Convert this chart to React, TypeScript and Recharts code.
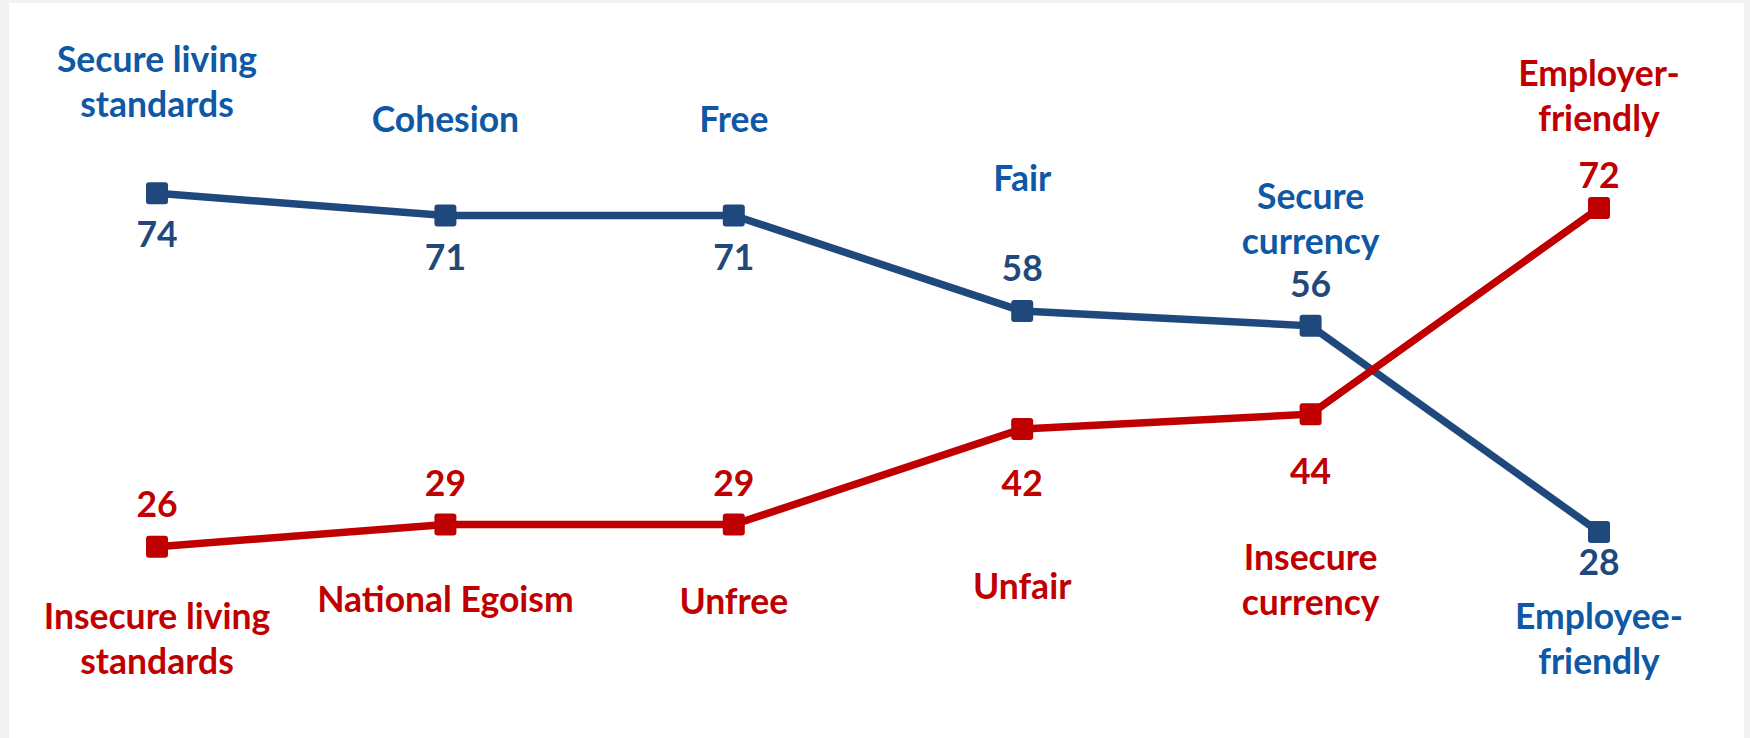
import React from 'react';
import { LineChart, Line, XAxis, YAxis, LabelList } from 'recharts';

// values
const positiveValues = [74, 71, 71, 58, 56, 28];
const negativeValues = [26, 29, 29, 42, 44, 72];

const positiveLabels = [
  ['Secure living', 'standards'],
  ['Cohesion'],
  ['Free'],
  ['Fair'],
  ['Secure', 'currency'],
  ['Employee-', 'friendly'],
];
const negativeLabels = [
  ['Insecure living', 'standards'],
  ['National Egoism'],
  ['Unfree'],
  ['Unfair'],
  ['Insecure', 'currency'],
  ['Employer-', 'friendly'],
];

// label placement relative to each point (px)
const posValueDy = [54, 55, 55, -30, -29, 43];
const posTextDy = [-121, -83, -83, -120, -117, 97];
const negValueDy = [-30, -29, -29, 67, 70, -20];
const negTextDy = [82, 87, 89, 170, 156, -122];

const BLUE_LINE = '#1F497D';
const BLUE_TEXT = '#0E58A5';
const RED = '#C00000';
const FONT = 'Lato, "Open Sans", sans-serif';
const LINE_H = 45;

const data = positiveValues.map((v, i) => ({ idx: i, pos: v, neg: negativeValues[i] }));

const squareDot = (color: string) => (props: any) => {
  const { cx, cy, index } = props;
  return <rect key={`d-${color}-${index}`} x={cx - 11} y={cy - 11} width={22} height={22} rx={3} fill={color} />;
};

const makeLabel =
  (lines: string[][], valueDy: number[], textDy: number[], valueColor: string, textColor: string) =>
  (props: any) => {
    const { x, y, index, value } = props;
    return (
      <g key={`l-${textColor}-${index}`} fontFamily={FONT} fontWeight={700} fontSize={35.5} textAnchor="middle">
        <text x={x} y={y + valueDy[index]} fill={valueColor}>
          {value}
        </text>
        <text x={x} y={y + textDy[index]} fill={textColor}>
          {lines[index].map((t, k) => (
            <tspan key={k} x={x} dy={k === 0 ? 0 : LINE_H}>
              {t}
            </tspan>
          ))}
        </text>
      </g>
    );
  };

export default function App() {
  return (
    <div style={{ position: 'absolute', left: 0, top: 0, width: 1750, height: 738, background: '#f2f2f2' }}>
      <div style={{ position: 'absolute', left: 9, top: 3, width: 1735, height: 735, background: '#ffffff' }} />
      <div style={{ position: 'absolute', left: 0, top: 0 }}>
        <LineChart width={1750} height={738} data={data} margin={{ top: 2, right: 7, bottom: 0, left: 13 }}>
          <XAxis dataKey="idx" hide padding={{ left: 144, right: 144 }} />
          <YAxis hide domain={[0, 100]} />
          <Line
            type="linear"
            dataKey="pos"
            stroke={BLUE_LINE}
            strokeWidth={7.5}
            dot={squareDot(BLUE_LINE)}
            activeDot={false}
            isAnimationActive={false}
          >
            <LabelList dataKey="pos" content={makeLabel(positiveLabels, posValueDy, posTextDy, BLUE_LINE, BLUE_TEXT)} />
          </Line>
          <Line
            type="linear"
            dataKey="neg"
            stroke={RED}
            strokeWidth={7.5}
            dot={squareDot(RED)}
            activeDot={false}
            isAnimationActive={false}
          >
            <LabelList dataKey="neg" content={makeLabel(negativeLabels, negValueDy, negTextDy, RED, RED)} />
          </Line>
        </LineChart>
      </div>
    </div>
  );
}
